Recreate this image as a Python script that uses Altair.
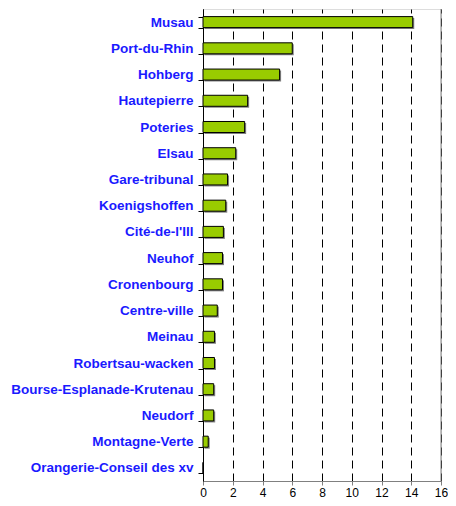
import altair as alt
import pandas as pd

quartiers = [
    "Musau", "Port-du-Rhin", "Hohberg", "Hautepierre", "Poteries", "Elsau",
    "Gare-tribunal", "Koenigshoffen", "Cité-de-l'Ill", "Neuhof", "Cronenbourg",
    "Centre-ville", "Meinau", "Robertsau-wacken", "Bourse-Esplanade-Krutenau",
    "Neudorf", "Montagne-Verte", "Orangerie-Conseil des xv",
]
valeurs = [14.1, 6.0, 5.15, 3.0, 2.8, 2.2, 1.65, 1.53, 1.37, 1.31, 1.31,
           0.96, 0.77, 0.77, 0.72, 0.72, 0.35, 0.0]
x_ticks = [0, 2, 4, 6, 8, 10, 12, 14, 16]

df = pd.DataFrame({"quartier": quartiers, "valeur": valeurs})

x_scale = alt.Scale(domain=[0, 16], nice=False, zero=True)
y_scale = alt.Scale(paddingInner=0.58, paddingOuter=0.29)

x_axis = alt.Axis(
    values=x_ticks, title=None, grid=True, gridColor="#000000", gridDash=[8, 5],
    gridWidth=1, domainColor="#808080", tickColor="#808080", tickSize=4,
    labelFont="Liberation Sans", labelFontSize=12, labelColor="#000000",
    labelPadding=2, labelFlush=False,
)
y_axis = alt.Axis(
    title=None, tickBand="extent", tickSize=5, tickColor="#000000",
    domainColor="#000000", labelFont="Liberation Sans", labelFontSize=13.5,
    labelFontWeight="bold", labelColor="#1a1aff", labelPadding=5, labelLimit=300,
)

base = alt.Chart(df)

shadow = base.mark_bar(color="#808080", xOffset=1.5, yOffset=1.5).encode(
    x=alt.X("valeur:Q", scale=x_scale, axis=x_axis),
    y=alt.Y("quartier:N", sort=quartiers, scale=y_scale, axis=y_axis),
)
bars = base.mark_bar(color="#99CC00", stroke="#000000", strokeWidth=1).encode(
    x=alt.X("valeur:Q", scale=x_scale, axis=x_axis),
    y=alt.Y("quartier:N", sort=quartiers, scale=y_scale, axis=y_axis),
)
border = alt.Chart(pd.DataFrame({"v": [16]})).mark_rule(color="#808080", strokeWidth=1).encode(
    x=alt.X("v:Q", scale=x_scale, axis=x_axis)
)

chart = alt.layer(shadow, bars, border).properties(
    width=238, height=472,
    autosize=alt.AutoSizeParams(type="none"),
    padding={"left": 195, "top": 1, "right": 7, "bottom": 17},
).configure_view(stroke=None).configure(background="#ffffff")

chart.save("out.html", embed_options={"renderer": "svg", "actions": False})
